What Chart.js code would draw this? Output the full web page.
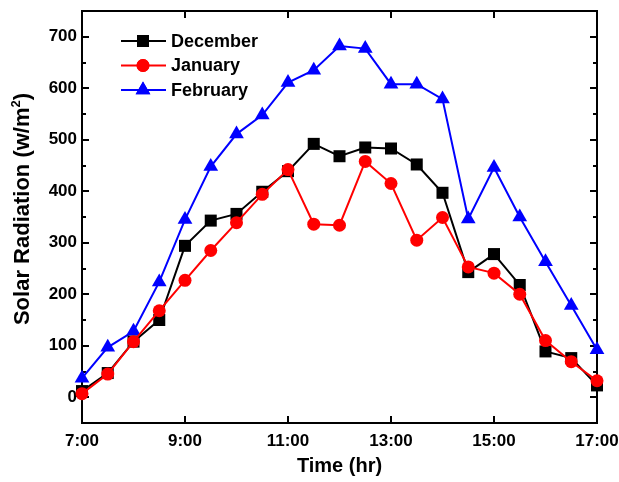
<!DOCTYPE html>
<html>
<head>
<meta charset="utf-8">
<script src="https://cdn.jsdelivr.net/npm/chart.js@4.4.1/dist/chart.umd.min.js"></script>
<style>
  html, body { margin: 0; padding: 0; background: #fff; }
  canvas { display: block; }
</style>
</head>
<body>
<canvas id="c" width="619" height="482"></canvas>
<script>
// Half-hourly readings, 7:00 to 17:00
const times = ['7:00','7:30','8:00','8:30','9:00','9:30','10:00','10:30','11:00','11:30','12:00',
               '12:30','13:00','13:30','14:00','14:30','15:00','15:30','16:00','16:30','17:00'];
const december = [12, 47, 108, 150, 294, 343, 356, 399, 439, 492, 468, 485, 483, 452, 397, 243, 278, 218, 89, 76, 23];
const january  = [7, 45, 108, 168, 227, 285, 339, 394, 442, 336, 334, 458, 415, 305, 349, 253, 241, 200, 110, 69, 32];
const february = [37, 97, 128, 224, 345, 448, 511, 548, 611, 635, 682, 677, 608, 608, 579, 346, 446, 350, 263, 178, 92];
const yTickValues = [0, 100, 200, 300, 400, 500, 600, 700];
const xTickLabels = ['7:00', '9:00', '11:00', '13:00', '15:00', '17:00'];

const toHours = s => { const [h, m] = s.split(':').map(Number); return h + m / 60; };
const hours = times.map(toHours);
const xTickHours = xTickLabels.map(toHours);
const pairs = vals => vals.map((v, i) => ({ x: hours[i], y: v }));

const FONT = '"Liberation Sans", Arial, sans-serif';

// Box frame with inward-pointing ticks on all four sides
const framePlugin = {
  id: 'frame',
  beforeDatasetsDraw(chart) {
    const { ctx, chartArea: a, scales: { x, y } } = chart;
    ctx.save();
    ctx.strokeStyle = '#000';
    ctx.lineWidth = 2;
    ctx.strokeRect(a.left, a.top, a.right - a.left, a.bottom - a.top);
    ctx.beginPath();
    const major = 7, minor = 4;
    yTickValues.forEach(v => {
      const py = Math.round(y.getPixelForValue(v));
      ctx.moveTo(a.left, py); ctx.lineTo(a.left + major, py);
      ctx.moveTo(a.right, py); ctx.lineTo(a.right - major, py);
      const m = v + 50;
      if (m < y.max) {
        const pm = Math.round(y.getPixelForValue(m));
        ctx.moveTo(a.left, pm); ctx.lineTo(a.left + minor, pm);
        ctx.moveTo(a.right, pm); ctx.lineTo(a.right - minor, pm);
      }
    });
    xTickHours.forEach(h => {
      if (h <= x.min || h >= x.max) return;
      const px = Math.round(x.getPixelForValue(h));
      ctx.moveTo(px, a.bottom); ctx.lineTo(px, a.bottom - major);
      ctx.moveTo(px, a.top); ctx.lineTo(px, a.top + major);
    });
    ctx.stroke();
    ctx.restore();
  }
};

// Vertical axis title with a raised exponent
const yTitlePlugin = {
  id: 'yTitle',
  afterDraw(chart) {
    const { ctx } = chart;
    const main = 'Solar Radiation (w/m', sup = '2', close = ')';
    const big = 'bold 22px ' + FONT, small = 'bold 13px ' + FONT;
    ctx.save();
    ctx.translate(21, 209);
    ctx.rotate(-Math.PI / 2);
    ctx.fillStyle = '#000';
    ctx.textBaseline = 'alphabetic';
    ctx.textAlign = 'left';
    ctx.font = big;
    const w1 = ctx.measureText(main).width, w3 = ctx.measureText(close).width;
    ctx.font = small;
    const w2 = ctx.measureText(sup).width;
    let cx = -(w1 + w2 + w3) / 2;
    ctx.font = big;
    ctx.fillText(main, cx, 8); cx += w1;
    ctx.font = small;
    ctx.fillText(sup, cx, -1); cx += w2;
    ctx.font = big;
    ctx.fillText(close, cx, 8);
    ctx.restore();
  }
};

// Legend: line segment with marker, then the series name
const legendPlugin = {
  id: 'lineLegend',
  afterDraw(chart) {
    const { ctx } = chart;
    const entries = [0, 1, 2].map(i => chart.data.datasets.find(d => d.legendIndex === i));
    ctx.save();
    entries.forEach((ds, i) => {
      const yy = 41 + i * 24.5;
      ctx.strokeStyle = ds.borderColor;
      ctx.lineWidth = 2;
      ctx.beginPath();
      ctx.moveTo(121, yy); ctx.lineTo(166, yy);
      ctx.stroke();
      ctx.fillStyle = ds.backgroundColor;
      Chart.helpers.drawPoint(ctx, { pointStyle: ds.pointStyle, radius: ds.pointRadius, borderWidth: 0, rotation: 0 }, 143, yy);
      ctx.fill();
      ctx.fillStyle = '#000';
      ctx.font = 'bold 18px ' + FONT;
      ctx.textBaseline = 'middle';
      ctx.textAlign = 'left';
      ctx.fillText(ds.label, 171, yy + 1);
    });
    ctx.restore();
  }
};

new Chart(document.getElementById('c'), {
  type: 'line',
  data: {
    datasets: [
      { label: 'January', legendIndex: 1, order: 0, data: pairs(january),
        borderColor: '#ff0000', backgroundColor: '#ff0000', pointStyle: 'circle', pointRadius: 6.5 },
      { label: 'December', legendIndex: 0, order: 1, data: pairs(december),
        borderColor: '#000000', backgroundColor: '#000000', pointStyle: 'rect', pointRadius: 8.5 },
      { label: 'February', legendIndex: 2, order: 2, data: pairs(february),
        borderColor: '#0000ff', backgroundColor: '#0000ff', pointStyle: 'triangle', pointRadius: 8.5 }
    ].map(d => Object.assign({ borderWidth: 2, pointBorderWidth: 0, clip: false, tension: 0, fill: false }, d))
  },
  options: {
    responsive: false,
    animation: false,
    devicePixelRatio: 1,
    layout: { padding: { left: 0, top: 11, right: 22, bottom: 0 } },
    plugins: { legend: { display: false }, tooltip: { enabled: false } },
    scales: {
      x: {
        type: 'linear', min: 7, max: 17,
        grid: { display: false, drawTicks: false },
        border: { display: false },
        afterBuildTicks: s => { s.ticks = xTickHours.map(v => ({ value: v })); },
        afterFit: s => { s.height = 59; s.paddingLeft = 0; s.paddingRight = 0; },
        ticks: {
          padding: 8, maxRotation: 0, autoSkip: false, color: '#000',
          font: { family: FONT, size: 17, weight: 'bold' },
          callback: (v) => xTickLabels[xTickHours.indexOf(v)] ?? ''
        },
        title: { display: true, text: 'Time (hr)', color: '#000', padding: { top: 0, bottom: 4 },
                 font: { family: FONT, size: 20, weight: 'bold' } }
      },
      y: {
        min: -50, max: 750,
        grid: { display: false, drawTicks: false },
        border: { display: false },
        afterBuildTicks: s => { s.ticks = yTickValues.map(v => ({ value: v })); },
        afterFit: s => { s.width = 82; s.paddingTop = 0; s.paddingBottom = 0; },
        ticks: {
          padding: 5, color: '#000',
          font: { family: FONT, size: 17, weight: 'bold' }
        },
        title: { display: false }
      }
    }
  },
  plugins: [framePlugin, yTitlePlugin, legendPlugin]
});
</script>
</body>
</html>
